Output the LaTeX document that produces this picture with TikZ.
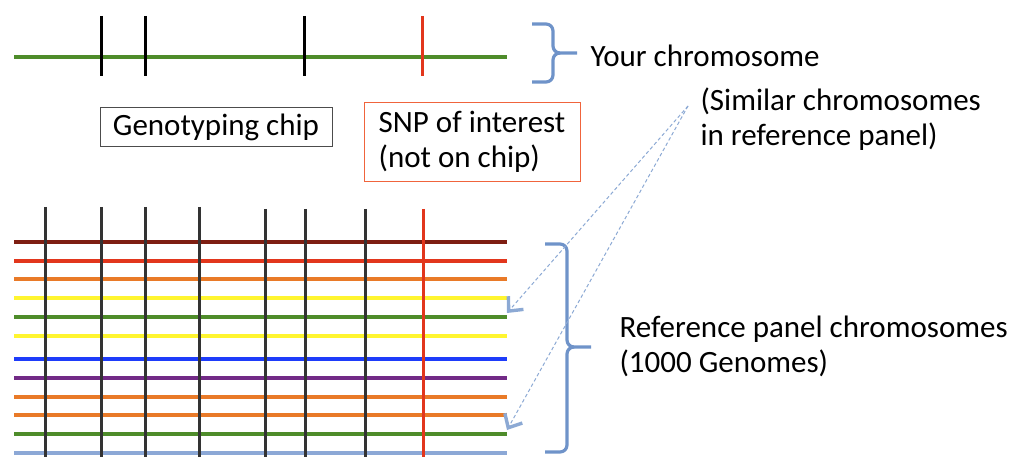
\documentclass[tikz,border=0pt]{standalone}
\usepackage{fontspec}
\setmainfont{Carlito}
\usetikzlibrary{arrows.meta}

\definecolor{chrbrown}{HTML}{7E1E12}
\definecolor{chrred}{HTML}{E2361C}
\definecolor{chrorange}{HTML}{E97A28}
\definecolor{chryellow}{HTML}{FFF530}
\definecolor{chrgreen}{HTML}{4E8C2A}
\definecolor{chrblue}{HTML}{1E3CFA}
\definecolor{chrpurple}{HTML}{722A86}
\definecolor{chrgrey}{HTML}{8CA8D6}
\definecolor{bracecol}{HTML}{6F93C9}
\definecolor{snpred}{HTML}{F0643C}

\tikzset{
  chr/.style={line width=3.4pt},
  marker/.style={line width=3pt,black!80},
  brace/.style={line width=3.2pt,bracecol},
  simarrow/.style={bracecol!80,line width=1pt,dash pattern=on 3.5pt off 2.5pt,
    -{Straight Barb[length=11pt,width=20pt,line width=3.4pt]}},
}

\begin{document}
\begin{tikzpicture}[x=1pt,y=-1pt,every node/.style={font=\fontsize{31}{35}\selectfont}]
  \useasboundingbox (0,0) rectangle (1012,457);

  \draw[chr,chrgreen] (14,57) -- (507,57);
  \foreach \x in {101,145,304}
    \draw[marker,black] (\x,16) -- (\x,76);
  \draw[marker,chrred] (422,16) -- (422,76);

  \draw[brace] (532,24) -- (546,24) to[out=0,in=90] (553,31) -- (553,46)
    to[out=-90,in=180] (560,53) -- (577,53);
  \draw[brace] (560,53) to[out=180,in=90] (553,60) -- (553,75)
    to[out=-90,in=0] (546,82) -- (532,82);
  \node[anchor=west] (yours) at (587,56) {Your chromosome};

  \node[draw=black!70,line width=0.8pt,minimum width=232pt,minimum height=39pt,inner sep=0pt]
    (chip) at (216,127) {Genotyping chip};
  \node[draw=snpred,line width=0.8pt,minimum width=216pt,minimum height=79pt,inner sep=0pt,align=left]
    (snp) at (472,142) {SNP of interest\\(not on chip)};

  \foreach \y/\c [count=\i] in {242/chrbrown,261/chrred,279/chrorange,298/chryellow,
      317/chrgreen,336/chryellow,359/chrblue,378/chrpurple,397/chrorange,
      415/chrorange,434/chrgreen,453/chrgrey}
    \draw[chr,\c] (14,\y) -- (507,\y) coordinate (h\i);
  \foreach \x in {45,101,145,199}
    \draw[marker] (\x,207) -- (\x,460);
  \foreach \x in {265,305,365}
    \draw[marker] (\x,209) -- (\x,460);
  \draw[marker,chrred] (423,209) -- (423,460);

  \draw[brace] (545,244) -- (560,244) to[out=0,in=90] (567,251) -- (567,340)
    to[out=-90,in=180] (574,347) -- (591,347);
  \draw[brace] (574,347) to[out=180,in=90] (567,354) -- (567,445)
    to[out=-90,in=0] (560,452) -- (545,452);

  \node[anchor=west,align=left] (similar) at (697,119) {(Similar chromosomes\\in reference panel)};
  \node[anchor=west,align=left] (refpanel) at (616,346) {Reference panel chromosomes\\(1000 Genomes)};

  \coordinate (simfoot) at (688,106);
  \draw[simarrow] (simfoot) -- ([yshift=4pt]h5);
  \draw[simarrow] (simfoot) -- ([yshift=4pt]h11);
\end{tikzpicture}
\end{document}
